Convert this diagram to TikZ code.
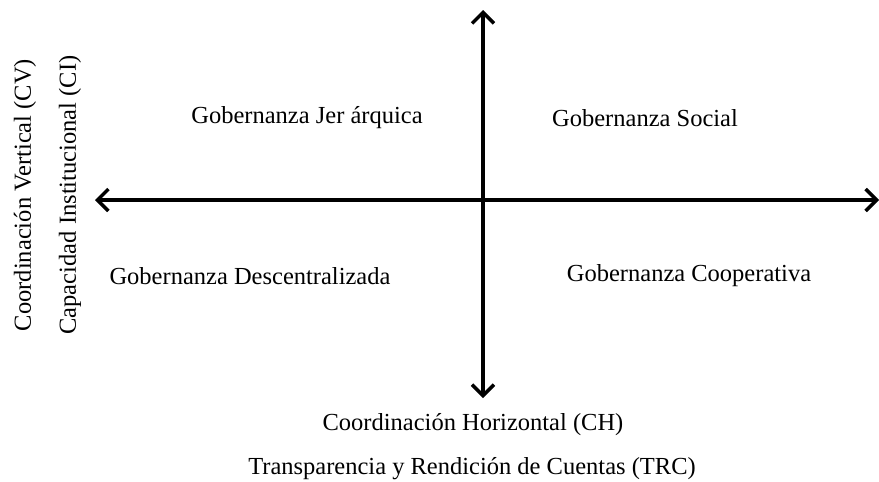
\documentclass[tikz,border=0pt]{standalone}
\usepackage{fontspec}
\setmainfont{Liberation Serif}
\usepackage{tikz}
\usetikzlibrary{arrows.meta, positioning}
\tikzstyle{axis} = [line width=3.5pt, {Straight Barb[length=11pt,width=22pt]}-{Straight Barb[length=11pt,width=22pt]}]
\tikzstyle{quad} = [text centered, inner sep=0pt, font=\fontsize{24.5}{29}\selectfont]
\tikzstyle{side} = [text centered, inner sep=0pt, rotate=90, font=\fontsize{24.5}{29}\selectfont]

\begin{document}
\begin{tikzpicture}[x=1pt, y=-1pt]
		\useasboundingbox (0,0) rectangle (879,482);

		\coordinate (top) at (483,10);
		\coordinate (bot) at (483,398);
		\coordinate (lft) at (95,200);
		\coordinate (rgt) at (879,200);

		\node (jer) [quad] at (307,118) {Gobernanza Jer árquica};
		\node (soc) [quad] at (645,118) {Gobernanza Social};
		\node (des) [quad] at (250,276) {Gobernanza Descentralizada};
		\node (coo) [quad] at (689,276) {Gobernanza Cooperativa};
		\node (ch) [quad] at (473,425) {Coordinación Horizontal (CH)};
		\node (trc) [quad] at (472,469) {Transparencia y Rendición de Cuentas (TRC)};
		\node (cv) [side] at (25,195) {Coordinación Vertical (CV)};
		\node (ci) [side] at (70,195) {Capacidad Institucional (CI)};

		% Draw axes
		\draw [axis] (top) -- (bot);
		\draw [axis] (lft) -- (rgt);

\end{tikzpicture}
\end{document}
